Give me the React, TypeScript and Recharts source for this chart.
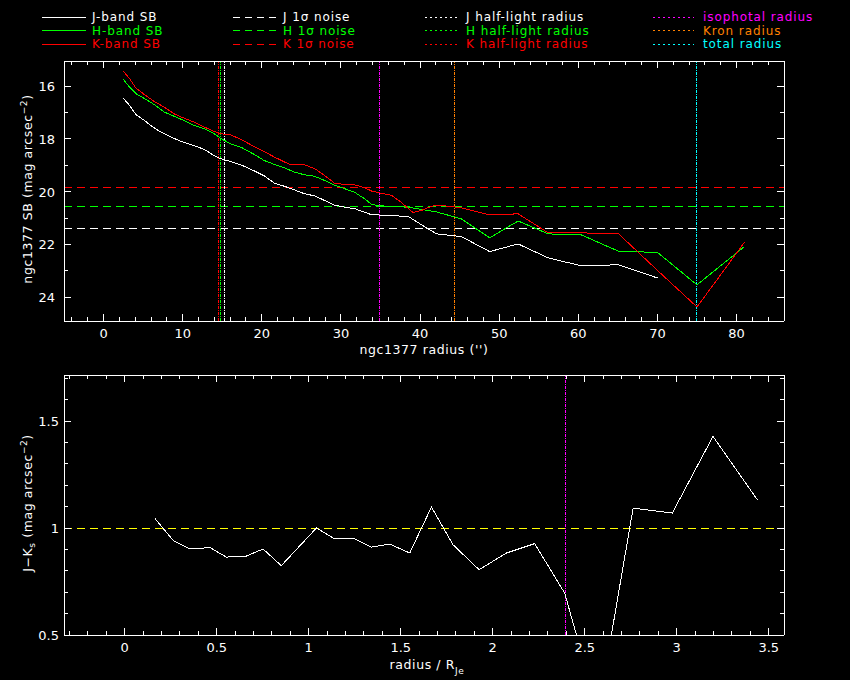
import React from "react";
import { LineChart, Line, XAxis, YAxis, ReferenceLine } from "recharts";

// surface brightness profiles (radius in arcsec, SB in mag arcsec^-2)
const jRadius = [2.5, 3.3, 4.1, 5.2, 6.0, 7.1, 8.1, 9.8, 11.5, 12.8, 14.0, 14.9, 16.1, 17.4, 19.1, 20.3, 21.6, 22.9, 24.1, 25.4, 26.7, 27.9, 29.2, 30.5, 31.7, 33.0, 33.9, 35.9, 37.2, 38.5, 39.7, 41.0, 42.1, 45.2, 48.8, 52.4, 56.2, 60.4, 65.1, 70.0];
const jSB = [16.46, 16.74, 17.08, 17.31, 17.5, 17.72, 17.87, 18.1, 18.26, 18.41, 18.64, 18.76, 18.86, 18.99, 19.22, 19.4, 19.68, 19.8, 19.93, 20.08, 20.16, 20.33, 20.51, 20.59, 20.64, 20.78, 20.88, 20.89, 20.92, 20.94, 21.16, 21.41, 21.6, 21.7, 22.27, 21.98, 22.51, 22.81, 22.77, 23.27];

const hRadius = [2.5, 3.3, 4.1, 5.2, 6.4, 7.7, 8.9, 10.2, 11.5, 12.8, 14.0, 14.9, 16.1, 17.4, 19.1, 20.3, 21.6, 22.9, 24.1, 25.4, 26.7, 27.9, 29.2, 30.5, 31.7, 33.0, 33.9, 35.9, 37.2, 38.5, 39.7, 41.0, 42.1, 45.2, 48.8, 52.4, 56.2, 60.4, 65.1, 70.0, 75.0, 81.0];
const hSB = [15.75, 16.04, 16.29, 16.48, 16.7, 16.99, 17.14, 17.31, 17.5, 17.62, 17.81, 18.0, 18.19, 18.32, 18.6, 18.82, 18.97, 19.1, 19.26, 19.36, 19.42, 19.57, 19.76, 19.89, 20.02, 20.27, 20.49, 20.56, 20.57, 20.59, 20.65, 20.71, 20.77, 21.03, 21.75, 21.11, 21.6, 21.64, 22.26, 22.3, 23.53, 22.08];

const kRadius = [2.5, 3.3, 4.1, 5.2, 6.4, 7.7, 8.9, 10.2, 11.5, 12.8, 14.0, 14.9, 16.1, 17.4, 19.1, 20.3, 21.6, 22.9, 23.7, 25.4, 26.7, 27.9, 29.2, 30.5, 31.7, 33.0, 33.9, 35.1, 36.4, 37.6, 39.1, 40.2, 41.4, 42.3, 45.2, 48.8, 52.4, 56.2, 60.4, 65.1, 70.0, 75.0, 81.0];
const kSB = [15.44, 15.72, 16.08, 16.33, 16.58, 16.8, 17.05, 17.22, 17.37, 17.56, 17.72, 17.81, 17.85, 18.03, 18.3, 18.48, 18.69, 18.88, 18.98, 18.98, 19.13, 19.38, 19.68, 19.73, 19.74, 19.85, 19.98, 20.06, 20.14, 20.4, 20.79, 20.71, 20.56, 20.51, 20.61, 20.88, 20.84, 21.56, 21.56, 21.6, 22.98, 24.37, 21.92];

// J-Ks colour profile (radius in units of R_Je)
const colourRadius = [0.165, 0.263, 0.353, 0.426, 0.458, 0.553, 0.661, 0.752, 0.851, 1.042, 1.141, 1.241, 1.341, 1.44, 1.549, 1.667, 1.784, 1.926, 2.074, 2.228, 2.391, 2.573, 2.763, 2.976, 3.197, 3.438];
const colourJK = [1.044, 0.942, 0.903, 0.906, 0.911, 0.864, 0.869, 0.902, 0.824, 1.0, 0.949, 0.953, 0.911, 0.925, 0.883, 1.098, 0.922, 0.805, 0.883, 0.927, 0.696, 0.14, 1.093, 1.07, 1.428, 1.132];

// reference levels and radii
const noiseLevels = [
  { band: "J", value: 21.41, color: "#ffffff" },
  { band: "H", value: 20.57, color: "#00ff00" },
  { band: "K", value: 19.85, color: "#ff0000" },
];
const markerRadii = [
  { name: "K half-light", value: 14.55, color: "#ff0000" },
  { name: "H half-light", value: 14.8, color: "#00ff00" },
  { name: "J half-light", value: 15.3, color: "#ffffff" },
  { name: "isophotal", value: 34.9, color: "#ff00ff" },
  { name: "Kron", value: 44.3, color: "#ff8000" },
  { name: "total", value: 74.9, color: "#00ffff" },
];
const colourReference = 1.0;
const isophotalRelative = 2.395;

// tick labels
const sbXMajor = [0, 10, 20, 30, 40, 50, 60, 70, 80];
const sbYMajor = [16, 18, 20, 22, 24];
const jkXMajor = [0, 0.5, 1, 1.5, 2, 2.5, 3, 3.5];
const jkYMajor = [0.5, 1, 1.5];

const legendColumns = [
  { x1: 42, x2: 86, tx: 92, dash: undefined, items: [["J-band SB", "#ffffff"], ["H-band SB", "#00ff00"], ["K-band SB", "#ff0000"]] },
  { x1: 233, x2: 277, tx: 283, dash: "7 5", items: [["J 1\u03c3 noise", "#ffffff"], ["H 1\u03c3 noise", "#00ff00"], ["K 1\u03c3 noise", "#ff0000"]] },
  { x1: 425, x2: 458, tx: 466, dash: "2 3", items: [["J half-light radius", "#ffffff"], ["H half-light radius", "#00ff00"], ["K half-light radius", "#ff0000"]] },
  { x1: 653, x2: 694, tx: 703, dash: "2 3", items: [["isophotal radius", "#ff00ff"], ["Kron radius", "#ff8000"], ["total radius", "#00ffff"]] },
];

const steps = (from: number, to: number, step: number) =>
  Array.from({ length: Math.round((to - from) / step) + 1 }, (_, i) => +(from + i * step).toFixed(3));

const sbXTicks = steps(-4, 86, 2);
const sbYTicks = steps(16, 24, 1);
const jkXTicks = steps(-0.3, 3.5, 0.1);
const jkYTicks = steps(0.5, 1.7, 0.1);

const toRows = (xs: number[], ys: number[]) => xs.map((r, i) => ({ r, v: ys[i] }));
const jRows = toRows(jRadius, jSB);
const hRows = toRows(hRadius, hSB);
const kRows = toRows(kRadius, kSB);
const colourRows = toRows(colourRadius, colourJK);

const FONT = "'DejaVu Sans', sans-serif";
const DASH_DOT = "3 1 1 1";

type Side = "bottom" | "top" | "left" | "right";

const makeTick = (side: Side, majors: number[], showLabel: boolean, labelGap: number) => (props: any) => {
  const { x, y, payload } = props;
  const isMajor = majors.some((m) => Math.abs(m - payload.value) < 1e-6);
  const len = isMajor ? 7 : 4;
  let line;
  if (side === "bottom") line = <line x1={x} x2={x} y1={y} y2={y - len} stroke="#fff" />;
  else if (side === "top") line = <line x1={x} x2={x} y1={y} y2={y + len} stroke="#fff" />;
  else if (side === "left") line = <line x1={x} x2={x + len} y1={y} y2={y} stroke="#fff" />;
  else line = <line x1={x} x2={x - len} y1={y} y2={y} stroke="#fff" />;
  let label = null;
  if (showLabel && isMajor) {
    label =
      side === "bottom" ? (
        <text x={x} y={y + labelGap} textAnchor="middle" fill="#fff" fontSize={13} fontFamily={FONT}>
          {payload.value}
        </text>
      ) : (
        <text x={x - labelGap} y={y + 5} textAnchor="end" fill="#fff" fontSize={13} fontFamily={FONT}>
          {payload.value}
        </text>
      );
  }
  return (
    <g>
      {line}
      {label}
    </g>
  );
};

const axisCommon = {
  type: "number" as const,
  allowDataOverflow: true,
  tickSize: 0,
  tickMargin: 0,
  tickLine: false,
  interval: 0 as const,
  axisLine: { stroke: "#ffffff" },
};

const SBPanel = () => (
  <LineChart width={850} height={360} margin={{ top: 60, right: 65, bottom: 38, left: 63 }}>
    <XAxis {...axisCommon} dataKey="r" domain={[-5, 86]} ticks={sbXTicks} height={1} tick={makeTick("bottom", sbXMajor, true, 17)} />
    <XAxis {...axisCommon} xAxisId="top" orientation="top" dataKey="r" domain={[-5, 86]} ticks={sbXTicks} height={1} tick={makeTick("top", sbXMajor, false, 0)} />
    <YAxis {...axisCommon} reversed domain={[15.05, 24.9]} ticks={sbYTicks} width={1} tick={makeTick("left", sbYMajor, true, 9)} />
    <YAxis {...axisCommon} yAxisId="right" orientation="right" reversed domain={[15.05, 24.9]} ticks={sbYTicks} width={1} tick={makeTick("right", sbYMajor, false, 0)} />
    {noiseLevels.map((n) => (
      <ReferenceLine key={n.band} y={n.value} stroke={n.color} strokeDasharray="8 5" />
    ))}
    {markerRadii.map((m) => (
      <ReferenceLine key={m.name} x={m.value} stroke={m.color} strokeDasharray={DASH_DOT} />
    ))}
    <Line data={jRows} dataKey="v" stroke="#ffffff" strokeWidth={1} dot={false} isAnimationActive={false} />
    <Line data={hRows} dataKey="v" stroke="#00ff00" strokeWidth={1} dot={false} isAnimationActive={false} />
    <Line data={kRows} dataKey="v" stroke="#ff0000" strokeWidth={1} dot={false} isAnimationActive={false} />
  </LineChart>
);

const ColourPanel = () => (
  <LineChart width={850} height={320} margin={{ top: 14, right: 65, bottom: 44, left: 63 }}>
    <XAxis {...axisCommon} dataKey="r" domain={[-0.33, 3.583]} ticks={jkXTicks} height={1} tick={makeTick("bottom", jkXMajor, true, 17)} />
    <XAxis {...axisCommon} xAxisId="top" orientation="top" dataKey="r" domain={[-0.33, 3.583]} ticks={jkXTicks} height={1} tick={makeTick("top", jkXMajor, false, 0)} />
    <YAxis {...axisCommon} domain={[0.5, 1.715]} ticks={jkYTicks} width={1} tick={makeTick("left", jkYMajor, true, 5)} />
    <YAxis {...axisCommon} yAxisId="right" orientation="right" domain={[0.5, 1.715]} ticks={jkYTicks} width={1} tick={makeTick("right", jkYMajor, false, 0)} />
    <ReferenceLine y={colourReference} stroke="#ffff00" strokeDasharray="8 5" />
    <ReferenceLine x={isophotalRelative} stroke="#ff00ff" strokeDasharray={DASH_DOT} />
    <Line data={colourRows} dataKey="v" stroke="#ffffff" strokeWidth={1} dot={false} isAnimationActive={false} />
  </LineChart>
);

const Overlay = () => (
  <svg width={850} height={680} style={{ position: "absolute", left: 0, top: 0, pointerEvents: "none" }} fontFamily={FONT}>
    {legendColumns.map((col, ci) =>
      col.items.map(([label, color], ri) => {
        const y = 21 + ri * 13.7;
        return (
          <g key={`${ci}-${ri}`}>
            <line x1={col.x1} x2={col.x2} y1={y - 4} y2={y - 4} stroke={color} strokeDasharray={col.dash} />
            <text x={col.tx} y={y} fill={color} fontSize={12} letterSpacing={0.9}>
              {label}
            </text>
          </g>
        );
      })
    )}
    <text x={424} y={354} textAnchor="middle" fill="#fff" fontSize={12.5} letterSpacing={0.6}>
      ngc1377 radius ('')
    </text>
    <text transform="translate(32,189) rotate(-90)" textAnchor="middle" fill="#fff" fontSize={12.5} letterSpacing={0.6}>
      ngc1377 SB (mag arcsec
      <tspan dy={-5} fontSize={9}>−2</tspan>
      <tspan dy={5}>)</tspan>
    </text>
    <text x={427} y={669} textAnchor="middle" fill="#fff" fontSize={12.5} letterSpacing={0.6}>
      radius / R
      <tspan dy={5} fontSize={9}>Je</tspan>
    </text>
    <text transform="translate(32,503) rotate(-90)" textAnchor="middle" fill="#fff" fontSize={12.5} letterSpacing={0.6}>
      J−K
      <tspan dy={3} fontSize={9}>s</tspan>
      <tspan dy={-3}> (mag arcsec</tspan>
      <tspan dy={-5} fontSize={9}>−2</tspan>
      <tspan dy={5}>)</tspan>
    </text>
  </svg>
);

export default function App() {
  return (
    <div style={{ position: "absolute", left: 0, top: 0, width: 850, height: 680, background: "#000", overflow: "hidden" }}>
      <style>{"svg line, svg path { shape-rendering: crispEdges; }"}</style>
      <div style={{ position: "absolute", left: 0, top: 0 }}>
        <SBPanel />
      </div>
      <div style={{ position: "absolute", left: 0, top: 360 }}>
        <ColourPanel />
      </div>
      <Overlay />
    </div>
  );
}
